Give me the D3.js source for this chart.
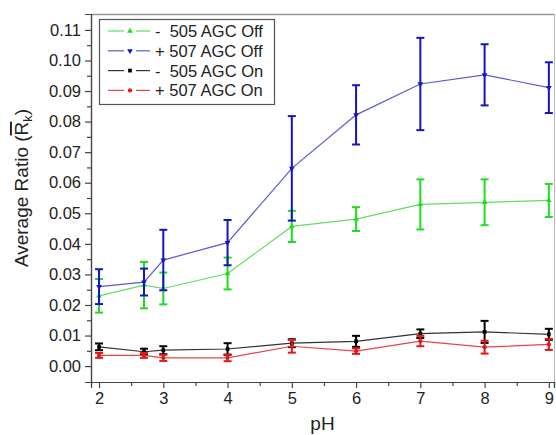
<!DOCTYPE html>
<html>
<head>
<meta charset="utf-8">
<script src="https://cdn.jsdelivr.net/npm/d3@7"></script>
<style>
  body { margin: 0; background: #fff; }
  text { font-family: "Liberation Sans", Arial, sans-serif; }
</style>
</head>
<body>
<script>
const pH = [2, 2.7, 3, 4, 5, 6, 7, 8, 9];

const off505 = [0.0230, 0.0265, 0.0254, 0.0303, 0.0457, 0.0481, 0.0529, 0.0536, 0.0542];
const off505Err = [0.0055, 0.0076, 0.0052, 0.0052, 0.0051, 0.0039, 0.0082, 0.0075, 0.0054];
const off507 = [0.0260, 0.0275, 0.0347, 0.0404, 0.0647, 0.0822, 0.0923, 0.0953, 0.0911];
const off507Err = [0.0057, 0.0044, 0.0099, 0.0074, 0.0171, 0.0097, 0.0151, 0.0100, 0.0083];
const on505 = [0.0063, 0.0047, 0.0052, 0.0056, 0.0075, 0.0081, 0.0106, 0.0112, 0.0104];
const on505Err = [0.0011, 0.0010, 0.0013, 0.0019, 0.0013, 0.0018, 0.0014, 0.0036, 0.0018];
const on507 = [0.0035, 0.0035, 0.0027, 0.0027, 0.0065, 0.0049, 0.0082, 0.0062, 0.0071];
const on507Err = [0.0008, 0.0008, 0.0010, 0.0011, 0.0021, 0.0009, 0.0017, 0.0021, 0.0018];

const xTicks = [2, 3, 4, 5, 6, 7, 8, 9];
const yTicks = [0, 0.01, 0.02, 0.03, 0.04, 0.05, 0.06, 0.07, 0.08, 0.09, 0.10, 0.11];

const series = [
  { name: "-  505 AGC Off", values: off505, err: off505Err, line: "#63dc63", bar: "#1fdc1f", marker: "triangle-up" },
  { name: "+ 507 AGC Off", values: off507, err: off507Err, line: "#5a5ad2", bar: "#1414c4", marker: "triangle-down" },
  { name: "-  505 AGC On", values: on505, err: on505Err, line: "#333333", bar: "#000000", marker: "square" },
  { name: "+ 507 AGC On", values: on507, err: on507Err, line: "#e84444", bar: "#e01818", marker: "circle" }
];

const w = 556;
const h = 435;
const padLeft = 91, padRight = 554, padTop = 14, padBottom = 382;

const svg = d3.select("body")
              .append("svg")
              .attr("width", w)
              .attr("height", h)

const x = d3.scaleLinear()
            .domain([1.875, 9.08])
            .range([padLeft, padRight])

const y = d3.scaleLinear()
            .domain([-0.0052, 0.1152])
            .range([padBottom, padTop])

// frame (top and right in light gray)
svg.append("line")
   .attr("x1", padLeft).attr("x2", padRight)
   .attr("y1", padTop + 0.5).attr("y2", padTop + 0.5)
   .attr("stroke", "#999").attr("stroke-width", 1.5)
svg.append("line")
   .attr("x1", padRight + 0.5).attr("x2", padRight + 0.5)
   .attr("y1", padTop).attr("y2", padBottom)
   .attr("stroke", "#bbb").attr("stroke-width", 1)

// minor ticks
const xMinor = d3.axisBottom(x)
                 .tickValues(d3.range(2.5, 9, 1))
                 .tickSize(4)
                 .tickFormat("")
const yMinor = d3.axisLeft(y)
                 .tickValues(d3.range(0.005, 0.115, 0.01))
                 .tickSize(4)
                 .tickFormat("")

svg.append("g")
   .attr("transform", "translate(0," + padBottom + ")")
   .call(xMinor)
svg.append("g")
   .attr("transform", "translate(" + padLeft + ",0)")
   .call(yMinor)

const xAxis = d3.axisBottom(x)
                .tickValues(xTicks)
                .tickSize(6)
                .tickPadding(4)
                .tickFormat(d3.format("d"))
const yAxis = d3.axisLeft(y)
                .tickValues(yTicks)
                .tickSize(6)
                .tickPadding(4)
                .tickFormat(d3.format(".2f"))

svg.append("g")
   .attr("class", "axis")
   .attr("transform", "translate(0," + padBottom + ")")
   .call(xAxis)
svg.append("g")
   .attr("class", "axis")
   .attr("transform", "translate(" + padLeft + ",0)")
   .call(yAxis)

svg.selectAll(".domain, .tick line")
   .attr("stroke", "#444")
   .attr("stroke-width", 1.2)
svg.selectAll(".axis .tick text")
   .attr("font-size", 16.5)
   .attr("fill", "#222")

// axis titles
svg.append("text")
   .attr("x", (padLeft + padRight) / 2)
   .attr("y", 430)
   .attr("text-anchor", "middle")
   .attr("font-size", 19)
   .attr("fill", "#222")
   .text("pH")

const yTitle = svg.append("text")
   .attr("transform", "translate(28," + 188 + ") rotate(-90)")
   .attr("text-anchor", "middle")
   .attr("font-size", 19)
   .attr("fill", "#222")
yTitle.append("tspan").text("Average Ratio (")
yTitle.append("tspan").attr("text-decoration", "overline").text("R")
yTitle.append("tspan").attr("font-size", 13).attr("dy", 4).text("k")
yTitle.append("tspan").attr("dy", -4).text(")")

const line = d3.line()
               .x((d, i) => x(pH[i]))
               .y(d => y(d))

const symbolType = {
  "triangle-up": d3.symbolTriangle,
  "triangle-down": d3.symbolTriangle,
  "square": d3.symbolSquare,
  "circle": d3.symbolCircle
};

const drawMarker = (g, s, cx, cy) => {
  g.append("path")
   .attr("d", d3.symbol().type(symbolType[s.marker]).size(14)())
   .attr("transform", "translate(" + cx + "," + cy + ")" + (s.marker === "triangle-down" ? " rotate(180)" : ""))
   .attr("fill", s.bar)
}

series.forEach(s => {
  const g = svg.append("g");
  g.append("path")
   .attr("d", line(s.values))
   .attr("fill", "none")
   .attr("stroke", s.line)
   .attr("stroke-width", 1.2)

  const bars = g.selectAll(".err")
                .data(s.values)
                .enter()
                .append("g")
  bars.append("line")
      .attr("x1", (d, i) => x(pH[i]))
      .attr("x2", (d, i) => x(pH[i]))
      .attr("y1", (d, i) => y(d - s.err[i]))
      .attr("y2", (d, i) => y(d + s.err[i]))
      .attr("stroke", s.bar)
      .attr("stroke-width", 2)
  bars.append("line")
      .attr("x1", (d, i) => x(pH[i]) - 4)
      .attr("x2", (d, i) => x(pH[i]) + 4)
      .attr("y1", (d, i) => y(d + s.err[i]))
      .attr("y2", (d, i) => y(d + s.err[i]))
      .attr("stroke", s.bar)
      .attr("stroke-width", 2)
  bars.append("line")
      .attr("x1", (d, i) => x(pH[i]) - 4)
      .attr("x2", (d, i) => x(pH[i]) + 4)
      .attr("y1", (d, i) => y(d - s.err[i]))
      .attr("y2", (d, i) => y(d - s.err[i]))
      .attr("stroke", s.bar)
      .attr("stroke-width", 2)

  s.values.forEach((d, i) => drawMarker(g, s, x(pH[i]), y(d)))
})

// legend
const legend = svg.append("g")
                  .attr("id", "legend")
legend.append("rect")
      .attr("x", 99.5)
      .attr("y", 19.5)
      .attr("width", 175)
      .attr("height", 85)
      .attr("fill", "#fff")
      .attr("stroke", "#555")
      .attr("stroke-width", 1.2)

series.forEach((s, i) => {
  const ly = 31 + i * 19.8;
  legend.append("line")
        .attr("x1", 108).attr("x2", 124)
        .attr("y1", ly).attr("y2", ly)
        .attr("stroke", s.line).attr("stroke-width", 1.2)
  legend.append("line")
        .attr("x1", 136).attr("x2", 150)
        .attr("y1", ly).attr("y2", ly)
        .attr("stroke", s.line).attr("stroke-width", 1.2)
  drawMarker(legend, s, 130, ly)
  legend.append("text")
        .attr("x", 155)
        .attr("y", ly + 6)
        .attr("font-size", 16.5)
        .attr("fill", "#222")
        .style("white-space", "pre")
        .text(s.name)
})
</script>
</body>
</html>
